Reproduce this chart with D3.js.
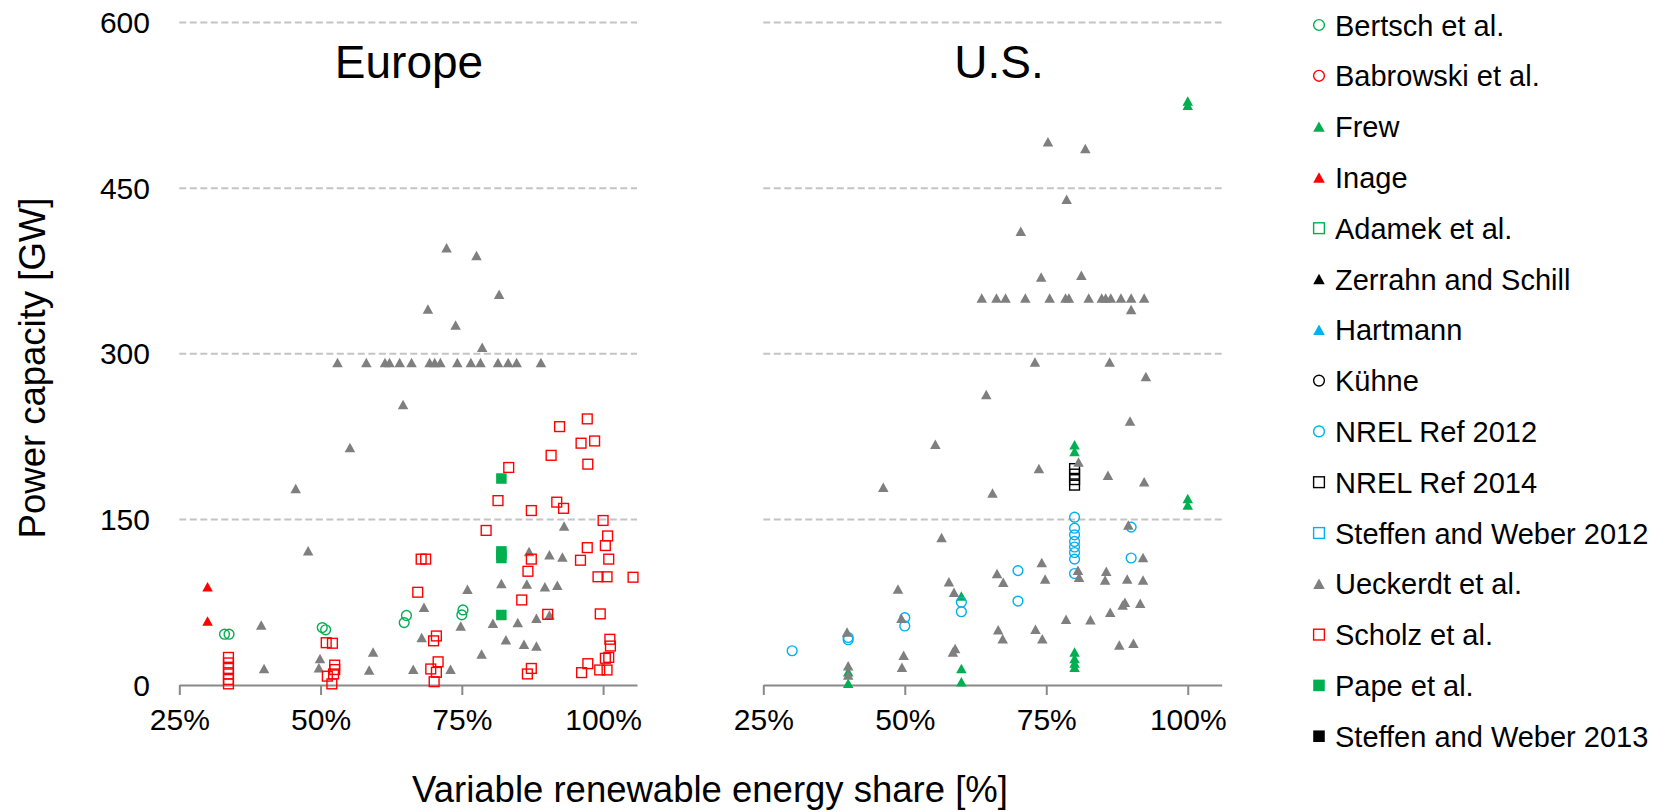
<!DOCTYPE html>
<html>
<head>
<meta charset="utf-8">
<script src="https://cdn.jsdelivr.net/npm/d3@7"></script>
<style>
  body { margin: 0; background: #fff; }
  text { font-family: "Liberation Sans", Arial, sans-serif; fill: #000; }
</style>
</head>
<body>
<svg width="1666" height="812"></svg>
<script>
// ---- data: [VRE share %, power capacity GW] ----
var bertschEU = [[33.0,46],[33.8,46],[50.3,52],[50.9,50],[65.2,63],[64.8,56.5],[75.2,68],[75.0,63.5]];
var inageEU = [[30,89],[30,58]];
var ueckerdtEU = [
  [72.3,396],[77.6,389],[81.6,354],[69,340.5],[73.9,326],[78.6,306],
  [53,292],[58.1,292],[61.4,292],[62.2,292],[64,292],[66.1,292],[69.3,292],[70.2,292],[71.2,292],
  [74.2,292],[76.6,292],[78.3,292],[81.4,292],[83.2,292],[84.7,292],[89,292],
  [64.6,254],[55.2,215],[45.6,178],[47.8,121.5],[93.1,144],[86.9,121],[90.5,118],[92.8,116],
  [82,92],[86.5,91.5],[89.7,89],[91.9,90.4],[76,86.7],[68.3,70.4],[74.8,53.5],[80.5,56],[84.9,56.5],
  [88.2,60.4],[90.5,63.4],[67.9,43],[82.8,41],[86,37],[88.2,35.3],[78.5,28],[39.5,54.4],[40,15],
  [49.9,24],[49.7,15.7],[59.3,30],[58.6,13.6],[66.4,14.2],[73,14.2]
];
var scholzEU = [
  [97.2,241],[92.3,234],[96.1,219],[98.5,221],[90.8,208],[97.3,200],[83.3,197],[81.4,167],[91.8,165.6],
  [93,160],[87.3,158],[100,149],[79.3,140],[100.8,135],[97.2,124.4],[100.4,126.3],[87.3,114],[96,113],
  [101,114],[86.7,103],[99.1,98],[100.7,98],[105.3,97.6],[67.8,114],[68.6,114],[67.2,84],[85.6,77],
  [99.5,64.4],[90.2,64],[70.5,44.4],[70,40],[70.8,21],[69.5,14.5],[70.5,11.5],[70.1,3],[87.3,15],
  [86.6,10],[97.3,19.3],[96.2,11.2],[99.4,13.6],[100.7,13.6],[100.4,24.2],[101,25],[101.2,41.4],[101.3,35.3],
  [33.7,25],[33.7,20],[33.7,15],[33.7,10],[33.7,5],[33.7,1],
  [51,38.3],[52.1,37.8],[52.5,18],[52.5,14],[52.3,10],[51.2,8],[52,1]
];
var papeEU = [[82,187],[82,121],[82,118],[82,115],[82,63.4]];

var frewUS = [[100,529],[100,525],[80,217.5],[80,211.5],[80,30],[80,24],[80,20],[80,16],
  [100,169],[100,163],[60,80.7],[60,15],[60,3],[40,12],[40,1.5]];
var ueckerdtUS = [
  [75.3,492],[81.9,486],[78.6,440],[70.5,411],[74.1,369.5],[81.2,371],
  [63.6,350.5],[66.2,350.5],[67.8,350.5],[71.3,350.5],[75.6,350.5],[78.4,350.5],[79,350.5],[82.5,350.5],
  [84.8,350.5],[85.5,350.5],[86.4,350.5],[88.2,350.5],[90,350.5],[92.3,350.5],
  [90,340],[73,292.5],[86.2,292.5],[92.6,279.5],
  [64.4,263],[89.8,239],[55.4,218],[80.7,202],[73.7,196],[85.9,190],[92.3,184],[46.2,179],[65.5,174],
  [89.5,145],[56.5,133.5],[74.2,111],[92.1,115.4],
  [66.3,101],[67.4,93],[74.8,96],[80.6,104],[80.8,97.6],[85.6,103],[85.4,95],[89.3,96],[92.1,95],
  [57.8,93.4],[58.7,84],[48.8,87],
  [88.9,75],[88.5,72.5],[91.6,74],[86.3,66],[78.5,59.5],[82.8,59],[73.1,50.5],[66.5,50],[67.3,42],
  [74.3,42],[49.4,60.4],[87.9,36.3],[90.4,37.8],[58.9,33],[58.5,30],[49.8,27],[49.5,16],
  [39.8,48],[40,17.5],[40,9]
];
var nrel2012US = [[30.1,31],[40,43],[40,41],[50,61],[50,53.5],[60,75],[60,66.4],[70,103.6],[70,76],
  [80,152],[80,142],[80,136],[80,130],[80,125],[80,120],[80,114],[80,101],[90,143],[90,115]];
var nrel2014US = [[80,196],[80,191],[80,186],[80,181]];

var regions = ["Europe", "U.S."];
var yTicks = [0, 150, 300, 450, 600];
var xTicks = [25, 50, 75, 100];

// series in legend order (later ones drawn on top)
var series = [
  {name: "Bertsch et al.", shape: "circle", color: "#00b050", fill: false, eu: bertschEU, us: []},
  {name: "Babrowski et al.", shape: "circle", color: "#ff0000", fill: false, eu: [], us: []},
  {name: "Frew", shape: "triangle", color: "#00b050", fill: true, eu: [], us: frewUS},
  {name: "Inage", shape: "triangle", color: "#ff0000", fill: true, eu: inageEU, us: []},
  {name: "Adamek et al.", shape: "square", color: "#00b050", fill: false, eu: [], us: []},
  {name: "Zerrahn and Schill", shape: "triangle", color: "#000000", fill: true, eu: [], us: []},
  {name: "Hartmann", shape: "triangle", color: "#00b0f0", fill: true, eu: [], us: []},
  {name: "Kühne", shape: "circle", color: "#000000", fill: false, eu: [], us: []},
  {name: "NREL Ref 2012", shape: "circle", color: "#00b0f0", fill: false, eu: [], us: nrel2012US},
  {name: "NREL Ref 2014", shape: "square", color: "#000000", fill: false, eu: [], us: nrel2014US},
  {name: "Steffen and Weber 2012", shape: "square", color: "#00b0f0", fill: false, eu: [], us: []},
  {name: "Ueckerdt et al.", shape: "triangle", color: "#7f7f7f", fill: true, eu: ueckerdtEU, us: ueckerdtUS},
  {name: "Scholz et al.", shape: "square", color: "#ff0000", fill: false, eu: scholzEU, us: []},
  {name: "Pape et al.", shape: "square", color: "#00b050", fill: true, eu: papeEU, us: []},
  {name: "Steffen and Weber 2013", shape: "square", color: "#000000", fill: true, eu: [], us: []}
];

var svg = d3.select("svg");

var y = d3.scaleLinear().domain([0, 600]).range([685, 22.5]);
var panels = [
  {title: regions[0], key: "eu", x: d3.scaleLinear().domain([25, 106]).range([179.3, 637]), titleX: 409},
  {title: regions[1], key: "us", x: d3.scaleLinear().domain([25, 106]).range([763.3, 1221.7]), titleX: 999}
];

// draws a marker shape centred on 0,0
function marker(sel, d, k) {
  k = k || 1;
  var g;
  if (d.shape == "circle") {
    g = sel.append("circle").attr("r", 4.9 * k);
  } else if (d.shape == "square") {
    var s = (d.fill ? 10.5 : 9.8) * k;
    g = sel.append("rect").attr("x", -s / 2).attr("y", -s / 2).attr("width", s).attr("height", s);
  } else {
    var w = 10.5 * k, h = 9.5 * k;
    g = sel.append("path").attr("d", "M0," + (-h / 2) + "L" + (w / 2) + "," + (h / 2) + "L" + (-w / 2) + "," + (h / 2) + "Z");
  }
  if (d.fill) {
    g.attr("fill", d.color).attr("stroke", "none");
  } else {
    g.attr("fill", "none").attr("stroke", d.color).attr("stroke-width", 1.4);
  }
}

panels.forEach(function(p, i) {
  var g = svg.append("g");

  // dashed gridlines
  g.selectAll(".grid")
    .data(yTicks.filter(function(t) { return t > 0; }))
    .enter().append("line")
    .attr("x1", p.x.range()[0]).attr("x2", p.x.range()[1])
    .attr("y1", function(t) { return y(t); }).attr("y2", function(t) { return y(t); })
    .attr("stroke", "#c4c4c4").attr("stroke-width", 2).attr("stroke-dasharray", "7,3.5");

  // x axis
  var ax = g.append("g").attr("transform", "translate(0," + y(0) + ")")
    .call(d3.axisBottom(p.x).tickValues(xTicks).tickSize(10).tickPadding(14)
      .tickSizeOuter(0).tickFormat(function(d) { return d + "%"; }));
  ax.select(".domain").attr("stroke", "#898989").attr("stroke-width", 2);
  ax.selectAll(".tick line").attr("stroke", "#898989").attr("stroke-width", 2);
  ax.selectAll(".tick text").attr("font-size", 30).attr("font-family", "Liberation Sans, Arial, sans-serif").attr("fill", "#000");

  // y labels only on the left panel
  if (i == 0) {
    g.selectAll(".ylab")
      .data(yTicks)
      .enter().append("text")
      .attr("x", 150).attr("y", function(t) { return y(t) + 10.5; })
      .attr("text-anchor", "end").attr("font-size", 30)
      .text(function(t) { return t; });
  }

  g.append("text").attr("x", p.titleX).attr("y", 78)
    .attr("text-anchor", "middle").attr("font-size", 46).text(p.title);

  series.forEach(function(s) {
    g.selectAll(null)
      .data(s[p.key])
      .enter().append("g")
      .attr("transform", function(d) { return "translate(" + p.x(d[0]) + "," + y(d[1]) + ")"; })
      .each(function() { marker(d3.select(this), s); });
  });
});

// axis titles
svg.append("text").attr("transform", "translate(45,368) rotate(-90)")
  .attr("text-anchor", "middle").attr("font-size", 36.5).text("Power capacity [GW]");
svg.append("text").attr("x", 710).attr("y", 802)
  .attr("text-anchor", "middle").attr("font-size", 36.5).text("Variable renewable energy share [%]");

// legend
var leg = svg.selectAll(".legend")
  .data(series)
  .enter().append("g")
  .attr("transform", function(d, i) { return "translate(1319," + (25 + i * 50.8) + ")"; });
leg.each(function(d) { marker(d3.select(this), d, 1.1); });
leg.append("text").attr("x", 16).attr("y", 10.5).attr("font-size", 29).text(function(d) { return d.name; });
</script>
</body>
</html>
